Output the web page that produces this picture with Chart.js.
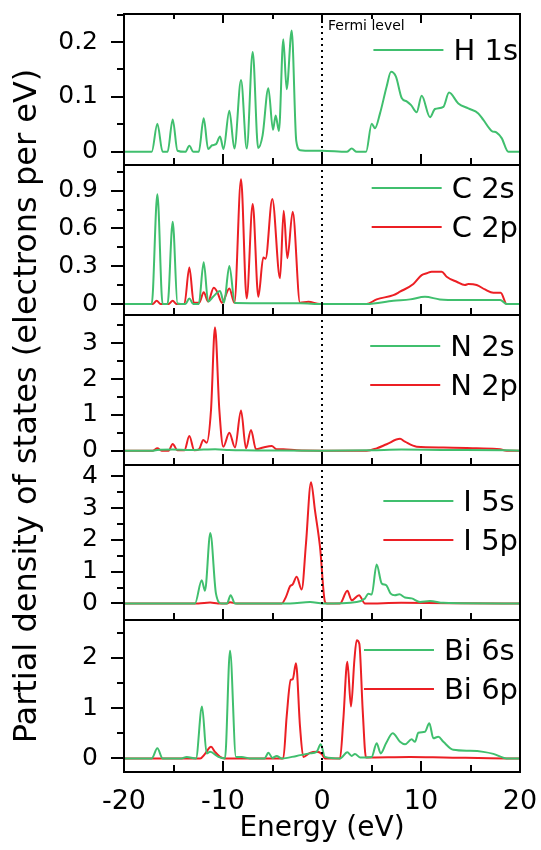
<!DOCTYPE html>
<html>
<head>
<meta charset="utf-8">
<script src="https://cdn.jsdelivr.net/npm/chart.js@4.4.0/dist/chart.umd.min.js"></script>
<style>
  html, body { margin: 0; background: #fff; }
</style>
</head>
<body>
<canvas id="pdosChart" width="541" height="850"></canvas>
<script>
// Energie-achse (eV) und Tick-Beschriftungen
const energyTicks = [-20, -10, 0, 10, 20];
const hTicks = [0, 0.1, 0.2];
const cTicks = [0, 0.3, 0.6, 0.9];
const nTicks = [0, 1, 2, 3];
const iTicks = [0, 1, 2, 3, 4];
const biTicks = [0, 1, 2];

// H 1s
const h1sE = [-20, -17.2, -16.63, -16.1, -15.6, -15.08, -14.6, -13.8, -13.4, -13.0, -12.45, -11.95, -11.5, -11.1, -10.7, -10.3, -9.95, -9.36, -8.85, -8.18, -7.6, -7.0, -6.45, -6.0, -5.42, -4.95, -4.68, -4.35, -3.91, -3.57, -3.06, -2.6, -2.2, -1.0, 0, 2.5, 3.0, 3.5, 4.45, 5.02, 5.35, 5.86, 6.53, 6.97, 7.47, 8.05, 8.55, 9.0, 9.56, 10.07, 10.91, 11.41, 12.26, 12.83, 13.77, 14.78, 15.79, 16.3, 17.14, 17.64, 18.15, 18.82, 20];
const h1sV = [0, 0, 0.051, 0, 0, 0.059, 0.002, 0, 0.011, 0, 0, 0.061, 0.005, 0.012, 0.014, 0.028, 0.005, 0.075, 0.006, 0.131, 0.006, 0.182, 0.007, 0.03, 0.116, 0.04, 0.066, 0.038, 0.205, 0.114, 0.221, 0.02, 0.003, 0.002, 0.002, 0, 0.006, 0, 0, 0.051, 0.043, 0.07, 0.119, 0.146, 0.137, 0.098, 0.092, 0.085, 0.072, 0.102, 0.063, 0.078, 0.082, 0.108, 0.088, 0.079, 0.07, 0.058, 0.038, 0.035, 0.025, 0, 0];

// C 2s / C 2p
const c2sE = [-20, -17.2, -16.63, -16.1, -15.6, -15.08, -14.6, -13.8, -13.4, -13.0, -12.45, -11.95, -11.5, -11.0, -10.3, -9.9, -9.36, -8.8, -5, -2.2, 0, 4.5, 7.2, 8.9, 10.4, 11.9, 13.9, 18.0, 18.65, 20];
const c2sV = [0, 0, 0.871, 0, 0, 0.654, 0.005, 0, 0.045, 0, 0, 0.331, 0.02, 0.058, 0.103, 0.01, 0.302, 0.008, 0.006, 0.006, 0, 0, 0.026, 0.037, 0.058, 0.037, 0.032, 0.032, 0, 0];
const c2pE = [-20, -17.1, -16.7, -16.3, -15.5, -15.08, -14.7, -13.9, -13.4, -12.95, -12.4, -11.95, -11.5, -10.94, -10.6, -10.1, -9.36, -8.85, -8.18, -7.61, -7.0, -6.43, -5.93, -5.7, -5.02, -4.24, -3.87, -3.5, -2.96, -2.22, -1.38, -0.2, 4.5, 5.52, 7.21, 7.88, 9.23, 10.07, 10.57, 11.08, 12.09, 12.59, 13.6, 14.44, 14.78, 15.62, 16.46, 17.31, 18.05, 18.65, 20];
const c2pV = [0, 0, 0.026, 0, 0, 0.026, 0, 0, 0.291, 0.01, 0.01, 0.093, 0.02, 0.13, 0.1, 0.01, 0.124, 0.01, 0.99, 0.045, 0.794, 0.058, 0.37, 0.36, 0.834, 0.204, 0.741, 0.363, 0.733, 0.01, 0.018, 0, 0, 0.037, 0.071, 0.098, 0.159, 0.23, 0.244, 0.257, 0.257, 0.217, 0.177, 0.151, 0.159, 0.151, 0.116, 0.09, 0.09, 0, 0];

// N 2s / N 2p
const n2sE = [-20, -17, -16.63, -15.08, -13.4, -11.95, -10.8, -9.4, -8, -5, 0, 5, 8, 12, 18.6, 20];
const n2sV = [0, 0, 0.02, 0.03, 0.02, 0.03, 0.04, 0.02, 0.01, 0.005, 0, 0.01, 0.03, 0.02, 0.01, 0];
const n2pE = [-20, -17.1, -16.63, -16.2, -15.5, -15.08, -14.6, -13.9, -13.4, -12.9, -12.4, -11.99, -11.65, -11.21, -10.81, -10.37, -9.97, -9.36, -8.79, -8.18, -7.68, -7.17, -6.67, -5.93, -5.08, -4.58, -3.9, -2.56, 0, 4.51, 5.52, 6.53, 7.88, 8.38, 9.56, 12.26, 15.62, 17.98, 18.65, 20];
const n2pV = [0, 0, 0.065, 0, 0, 0.186, 0.01, 0.01, 0.41, 0.01, 0.05, 0.3, 0.22, 1.14, 3.45, 1.14, 0.11, 0.5, 0.09, 1.12, 0.065, 0.58, 0.04, 0.09, 0.13, 0.04, 0.04, 0.01, 0, 0, 0.065, 0.18, 0.33, 0.25, 0.11, 0.09, 0.065, 0.04, 0, 0];

// I 5s / I 5p
const i5sE = [-20, -12.83, -12.15, -11.82, -11.28, -10.71, -10.13, -9.6, -9.23, -8.79, -3.23, -1.21, 0.13, 3.5, 4.34, 4.68, 5.02, 5.52, 6.03, 6.47, 6.94, 7.37, 7.81, 8.38, 9.06, 9.9, 10.9, 12.26, 18.3, 20];
const i5sV = [0, 0, 0.73, 0.4, 2.22, 0.31, 0, 0, 0.26, 0, 0, 0.05, 0, 0.05, 0.16, 0.31, 0.28, 1.23, 0.63, 0.58, 0.31, 0.26, 0.29, 0.19, 0.16, 0.05, 0.08, 0.02, 0, 0];
const i5pE = [-20, -12.5, -11.3, -10.5, -9.6, -9.3, -8.6, -4.07, -3.64, -3.23, -2.96, -2.56, -2.05, -1.62, -1.11, -0.71, -0.2, 0.3, 0.5, 1.82, 2.56, 3.0, 3.74, 4.34, 8, 18.3, 20];
const i5pV = [0, 0, 0.03, 0, 0, 0.04, 0, 0, 0.21, 0.54, 0.6, 0.84, 0.44, 1.88, 3.82, 2.93, 1.78, 0.05, 0, 0, 0.4, 0.1, 0.26, 0, 0.02, 0, 0];

// Bi 6s / Bi 6p
const bi6sE = [-20, -17.2, -16.63, -16.1, -14.2, -13.67, -12.73, -12.12, -11.65, -11.31, -10.47, -9.8, -9.29, -8.69, -8.11, -7.3, -5.8, -5.42, -5.0, -4.58, -4.1, -2.56, -1.21, -0.54, -0.13, 0.3, 1.82, 2.56, 3.0, 3.33, 3.84, 5.02, 5.52, 5.93, 6.47, 7.14, 7.88, 8.38, 9.06, 9.39, 9.73, 10.4, 10.84, 11.25, 11.75, 12.26, 13.27, 14.95, 16.3, 17.31, 18.65, 20];
const bi6sV = [0, 0, 0.2, 0, 0, 0.03, 0, 1.03, 0.1, 0.13, 0.03, 0, 2.14, 0.03, 0.03, 0, 0, 0.11, 0.01, 0.05, 0, 0.05, 0.1, 0.13, 0.28, 0.03, 0, 0.12, 0.05, 0.09, 0.02, 0.03, 0.3, 0.1, 0.3, 0.5, 0.33, 0.28, 0.38, 0.33, 0.51, 0.53, 0.7, 0.4, 0.43, 0.33, 0.17, 0.15, 0.13, 0.09, 0, 0];
const bi6pE = [-20, -12.3, -11.82, -11.21, -10.81, -10.3, -9.8, -3.91, -3.57, -3.16, -2.96, -2.63, -2.22, -1.89, -1.21, -0.54, -0.03, 0.3, 1.82, 2.15, 2.56, 2.93, 3.27, 3.5, 3.77, 4.11, 4.44, 8.9, 12.3, 18.65, 20];
const bi6pV = [0, 0, 0.09, 0.23, 0.13, 0.03, 0, 0, 0.83, 1.56, 1.57, 1.89, 0.63, 0.03, 0.11, 0.13, 0.09, 0, 0, 0.76, 1.92, 1.03, 1.95, 2.35, 2.28, 0.96, 0.02, 0.03, 0.02, 0, 0];

const green = '#40bf6e';
const red = '#ec1f24';
const fontFamily = "'DejaVu Sans', sans-serif";

function toPoints(energies, values) {
    return energies.map((e, i) => ({ x: e, y: values[i] }));
}

function makeSet(label, energies, values, color, axis) {
    return {
        label: label,
        data: toPoints(energies, values),
        yAxisID: axis,
        borderColor: color,
        borderWidth: 2,
        pointRadius: 0,
        fill: false,
        cubicInterpolationMode: 'monotone'
    };
}

// Panels von oben nach unten
const panelAxes = ['yH', 'yC', 'yN', 'yI', 'yBi'];
const legendTop = { yH: 36, yC: 23, yN: 31, yI: 36, yBi: 30 };

function yAxis(labels, min, max, height) {
    return {
        type: 'linear',
        position: 'left',
        stack: 'pdos',
        stackWeight: height,
        min: min,
        max: max,
        afterBuildTicks: (scale) => { scale.ticks = labels.map(v => ({ value: v })); },
        ticks: {
            padding: 26,
            autoSkip: false,
            color: '#000',
            font: { family: fontFamily, size: 25 },
            callback: (v) => String(v)
        },
        grid: { display: false, drawTicks: false },
        border: { display: false },
        afterFit: (scale) => {
            scale.width = 124;
            scale.paddingTop = 0;
            scale.paddingBottom = 0;
        }
    };
}

// minor ticks halfway between labelled ones
function tickList(labels, scale) {
    const half = (labels[1] - labels[0]) / 2;
    const out = [];
    for (let v = labels[0]; v <= scale.max + 1e-9; v += half) {
        out.push({ value: v, major: labels.some(l => Math.abs(l - v) < 1e-9) });
    }
    return out;
}

const panelLabels = { yH: hTicks, yC: cTicks, yN: nTicks, yI: iTicks, yBi: biTicks };

const frames = {
    id: 'frames',
    afterDatasetsDraw(chart) {
        const { ctx, chartArea, scales } = chart;
        const x = scales.x;
        const left = x.left, right = x.right;
        const top = scales.yH.top, bottom = scales.yBi.bottom;
        ctx.save();
        ctx.strokeStyle = '#000';
        ctx.lineWidth = 2;
        ctx.lineCap = 'butt';

        // x ticks (every 5 eV)
        const xTicks = [];
        for (let v = energyTicks[0]; v <= energyTicks[energyTicks.length - 1]; v += 5) {
            xTicks.push({ value: v, major: energyTicks.includes(v) });
        }

        panelAxes.forEach((id, p) => {
            const y = scales[id];
            ctx.strokeRect(left, y.top, right - left, y.bottom - y.top);

            ctx.beginPath();
            tickList(panelLabels[id], y).forEach(t => {
                const py = Math.round(y.getPixelForValue(t.value));
                ctx.moveTo(left - (t.major ? 13 : 7), py);
                ctx.lineTo(left, py);
            });
            xTicks.forEach(t => {
                const px = Math.round(x.getPixelForValue(t.value));
                const len = t.major ? 11 : 7;
                ctx.moveTo(px, y.bottom);
                ctx.lineTo(px, y.bottom - len);
                if (p === 0) {
                    ctx.moveTo(px, y.top);
                    ctx.lineTo(px, y.top + len - 2);
                }
            });
            ctx.stroke();
        });

        // Fermi level
        const x0 = Math.round(x.getPixelForValue(0));
        ctx.beginPath();
        ctx.setLineDash([2, 4]);
        ctx.moveTo(x0, top);
        ctx.lineTo(x0, bottom);
        ctx.stroke();
        ctx.setLineDash([]);

        ctx.fillStyle = '#000';
        ctx.font = '14px ' + fontFamily;
        ctx.textAlign = 'left';
        ctx.textBaseline = 'middle';
        ctx.fillText('Fermi level', x0 + 6, top + 12);

        // legends inside each panel
        ctx.font = '29px ' + fontFamily;
        panelAxes.forEach(id => {
            const y = scales[id];
            const sets = chart.data.datasets.filter(d => d.yAxisID === id);
            const w = Math.max(...sets.map(d => ctx.measureText(d.label).width));
            const textX = right - 2 - w;
            sets.forEach((d, j) => {
                const ly = y.top + legendTop[id] + 39 * j;
                ctx.strokeStyle = d.borderColor;
                ctx.lineWidth = 2;
                ctx.beginPath();
                ctx.moveTo(textX - 80, ly);
                ctx.lineTo(textX - 10, ly);
                ctx.stroke();
                ctx.fillText(d.label, textX, ly + 2);
            });
        });

        // y title
        ctx.translate(28, (top + bottom) / 2 + 13);
        ctx.rotate(-Math.PI / 2);
        ctx.font = '32px ' + fontFamily;
        ctx.textAlign = 'center';
        ctx.fillText('Partial density of states (electrons per eV)', 0, 0);
        ctx.restore();
    }
};

const pdosChart = new Chart(
    document.getElementById('pdosChart'),
    {
        type: 'line',
        data: {
            datasets: [
                makeSet('H 1s', h1sE, h1sV, green, 'yH'),
                makeSet('C 2s', c2sE, c2sV, green, 'yC'),
                makeSet('C 2p', c2pE, c2pV, red, 'yC'),
                makeSet('N 2s', n2sE, n2sV, green, 'yN'),
                makeSet('N 2p', n2pE, n2pV, red, 'yN'),
                makeSet('I 5s', i5sE, i5sV, green, 'yI'),
                makeSet('I 5p', i5pE, i5pV, red, 'yI'),
                makeSet('Bi 6s', bi6sE, bi6sV, green, 'yBi'),
                makeSet('Bi 6p', bi6pE, bi6pV, red, 'yBi')
            ]
        },
        options: {
            responsive: false,
            animation: false,
            devicePixelRatio: 1,
            layout: { padding: { left: 0, top: 14, right: 21, bottom: 0 } },
            plugins: {
                legend: { display: false },
                tooltip: { enabled: false }
            },
            scales: {
                x: {
                    type: 'linear',
                    position: 'bottom',
                    min: -20,
                    max: 20,
                    afterBuildTicks: (scale) => { scale.ticks = energyTicks.map(v => ({ value: v })); },
                    ticks: {
                        padding: 14,
                        autoSkip: false,
                        color: '#000',
                        maxRotation: 0,
                        font: { family: fontFamily, size: 27 }
                    },
                    grid: { display: false, drawTicks: false },
                    border: { display: false },
                    title: {
                        display: true,
                        text: 'Energy (eV)',
                        color: '#000',
                        font: { family: fontFamily, size: 28 },
                        padding: { top: 0, bottom: 4 }
                    },
                    afterFit: (scale) => {
                        scale.height = 78;
                        scale.paddingLeft = 0;
                        scale.paddingRight = 0;
                    }
                },
                // stacked y axes: Chart.js places the last one on top, so bottom panel first
                yBi: yAxis(biTicks, -0.27, 2.75, 152),
                yI: yAxis(iTicks, -0.52, 4.36, 155),
                yN: yAxis(nTicks, -0.40, 3.79, 150),
                yC: yAxis(cTicks, -0.087, 1.104, 150),
                yH: yAxis(hTicks, -0.024, 0.251, 151)
            }
        },
        plugins: [frames]
    }
);
</script>
</body>
</html>
